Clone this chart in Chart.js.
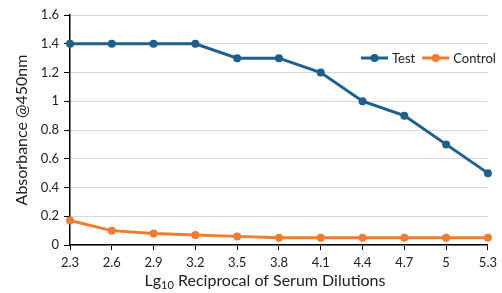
<!DOCTYPE html>
<html>
<head>
<meta charset="utf-8">
<script src="https://cdn.jsdelivr.net/npm/chart.js@4/dist/chart.umd.min.js"></script>
<style>
  html, body { margin: 0; padding: 0; background: #fff; }
  #wrap { width: 502px; height: 293px; position: relative; }
</style>
</head>
<body>
<div id="wrap"><canvas id="chart"></canvas></div>
<script>
const dilutions = ['2.3', '2.6', '2.9', '3.2', '3.5', '3.8', '4.1', '4.4', '4.7', '5', '5.3'];
const testValues = [1.4, 1.4, 1.4, 1.4, 1.3, 1.3, 1.2, 1.0, 0.9, 0.7, 0.5];
const controlValues = [0.17, 0.10, 0.08, 0.07, 0.06, 0.05, 0.05, 0.05, 0.05, 0.05, 0.05];

const FONT = 'Lato, "Open Sans", sans-serif';
const blue = '#1f5f8b';
const orange = '#ed7d31';

// legend drawn inside the plot, top right
const insideLegend = {
  id: 'insideLegend',
  afterDraw(chart) {
    const ctx = chart.ctx;
    const y = 58;
    let x = 361;
    ctx.save();
    ctx.font = '13px ' + FONT;
    ctx.textBaseline = 'middle';
    chart.data.datasets.forEach(ds => {
      ctx.strokeStyle = ds.borderColor;
      ctx.lineWidth = 3;
      ctx.beginPath();
      ctx.moveTo(x, y);
      ctx.lineTo(x + 27, y);
      ctx.stroke();
      ctx.fillStyle = ds.borderColor;
      ctx.beginPath();
      ctx.arc(x + 13.5, y, 4, 0, Math.PI * 2);
      ctx.fill();
      ctx.fillStyle = '#222';
      ctx.fillText(ds.label, x + 31, y + 1);
      x += 31 + ctx.measureText(ds.label).width + 7;
    });
    ctx.restore();
  }
};

// x title with subscript
const xTitle = {
  id: 'xTitle',
  afterDraw(chart) {
    const ctx = chart.ctx;
    const cx = 265;
    const y = 286;
    ctx.save();
    ctx.fillStyle = '#222';
    ctx.textBaseline = 'alphabetic';
    const big = '16px ' + FONT, small = '11px ' + FONT;
    const p1 = 'Lg', p2 = '10', p3 = ' Reciprocal of Serum Dilutions';
    ctx.font = big;
    const w1 = ctx.measureText(p1).width, w3 = ctx.measureText(p3).width;
    ctx.font = small;
    const w2 = ctx.measureText(p2).width;
    let x = cx - (w1 + w2 + w3) / 2;
    ctx.font = big;
    ctx.fillText(p1, x, y);
    x += w1;
    ctx.font = small;
    ctx.fillText(p2, x, y + 3);
    x += w2;
    ctx.font = big;
    ctx.fillText(p3, x, y);
    ctx.restore();
  }
};

new Chart(document.getElementById('chart'), {
  type: 'line',
  data: {
    labels: dilutions,
    datasets: [
      {
        label: 'Test',
        data: testValues,
        borderColor: blue,
        backgroundColor: blue,
        borderWidth: 3,
        pointRadius: 4,
        pointBackgroundColor: blue,
        pointBorderWidth: 0,
        tension: 0
      },
      {
        label: 'Control',
        data: controlValues,
        borderColor: orange,
        backgroundColor: orange,
        borderWidth: 3,
        pointRadius: 4,
        pointBackgroundColor: orange,
        pointBorderWidth: 0,
        tension: 0
      }
    ]
  },
  options: {
    responsive: true,
    maintainAspectRatio: false,
    animation: false,
    layout: { padding: { left: 0, right: 14, top: 15, bottom: 0 } },
    plugins: {
      legend: { display: false },
      tooltip: { enabled: false }
    },
    scales: {
      x: {
        offset: false,
        afterFit(scale) { scale.height = 48; },
        grid: {
          display: true,
          drawOnChartArea: false,
          drawTicks: true,
          tickLength: 5,
          color: '#000'
        },
        border: { color: '#000', width: 1.5 },
        ticks: {
          color: '#222',
          font: { family: FONT, size: 13 },
          padding: 5,
          maxRotation: 0,
          autoSkip: false
        }
      },
      y: {
        min: 0,
        max: 1.6,
        afterFit(scale) { scale.width = 70; },
        grid: {
          color: '#d9d9d9',
          lineWidth: 1,
          tickLength: 6,
          tickColor: '#000'
        },
        border: { color: '#000', width: 1.5 },
        title: {
          display: true,
          text: 'Absorbance @450nm',
          color: '#222',
          font: { family: FONT, size: 16 },
          padding: { top: 12, bottom: 4 }
        },
        ticks: {
          stepSize: 0.2,
          color: '#222',
          font: { family: FONT, size: 13 },
          padding: 5,
          callback: v => Math.round(v * 10) / 10
        }
      }
    }
  },
  plugins: [insideLegend, xTitle]
});
</script>
</body>
</html>
